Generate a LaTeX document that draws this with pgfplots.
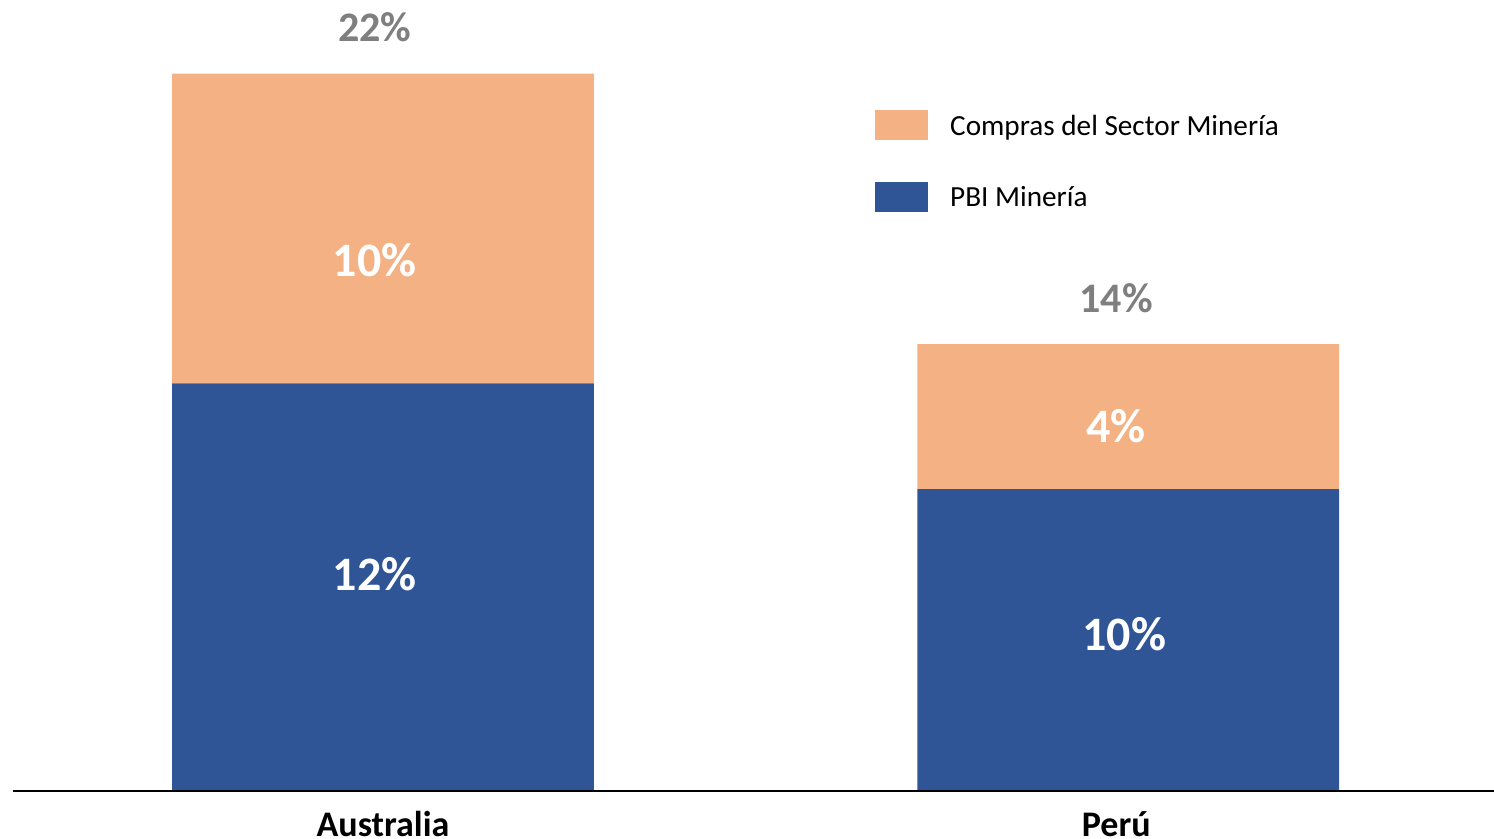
\documentclass[border=0pt]{standalone}
\usepackage{pgfplots}
\pgfplotsset{compat=1.18}
\usepackage{fontspec}
\setmainfont{Carlito}

\definecolor{pbi}{HTML}{2F5597}
\definecolor{compras}{HTML}{F4B183}
\definecolor{totgray}{HTML}{7F7F7F}

\begin{document}
\begin{tikzpicture}
\begin{axis}[
    scale only axis,
    width=747bp, height=419.5bp,
    xmin=-0.514, xmax=1.491,
    ymin=-1.47, ymax=24.26,
    axis lines=none,
    xtick=\empty, ytick=\empty,
    clip=false,
    ybar stacked,
    bar width=0.566,
    reverse legend,
    legend image code/.code={\fill[#1] (0bp,-7.5bp) rectangle (26.5bp,7.5bp);
        \path (37.5bp,0bp);},
    legend style={at={(axis cs:0.660,20.9)}, anchor=north west,
        draw=none, fill=none, inner sep=0pt,
        row sep=21bp,
        font=\fontsize{14.6bp}{16bp}\selectfont,
        nodes={inner sep=0pt, text depth=0pt, anchor=west}},
    legend cell align=left,
]
% PBI Minería (bottom segment)
\addplot[fill=pbi, draw=none] coordinates {(0,12.5) (1,9.26)};
% Compras del Sector Minería (top segment)
\addplot[fill=compras, draw=none] coordinates {(0,9.5) (1,4.45)};
\legend{PBI Minería, Compras del Sector Minería}

\coordinate (b0) at (axis cs:-0.497,0);
\coordinate (b1) at (axis cs:1.491,0);
\coordinate (la) at (axis cs:-0.011,6.66);
\coordinate (lb) at (axis cs:-0.011,16.29);
\coordinate (lc) at (axis cs:0.995,4.82);
\coordinate (ld) at (axis cs:0.984,11.2);
\coordinate (ta) at (axis cs:-0.011,23.44);
\coordinate (tb) at (axis cs:0.984,15.12);
\coordinate (ca) at (axis cs:0.0,-1.4);
\coordinate (cb) at (axis cs:0.984,-1.4);
\end{axis}
\draw[black, line width=1.2bp] (b0) -- (b1);
% segment labels
\begin{scope}[every node/.style={text=white, font=\fontsize{24bp}{28bp}\selectfont\bfseries}]
\node at (la) {12\%};
\node at (lb) {10\%};
\node at (lc) {10\%};
\node at (ld) {4\%};
\end{scope}
% totals
\node[text=totgray, font=\fontsize{21bp}{24bp}\selectfont\bfseries] at (ta) {22\%};
\node[text=totgray, font=\fontsize{21bp}{24bp}\selectfont\bfseries] at (tb) {14\%};
% categories
\node[font=\fontsize{18bp}{22bp}\selectfont\bfseries, anchor=base] at (ca) {Australia};
\node[font=\fontsize{18bp}{22bp}\selectfont\bfseries, anchor=base] at (cb) {Perú};
\pgfresetboundingbox
\path[use as bounding box] (current axis.south west) rectangle (current axis.north east);
\end{tikzpicture}
\end{document}
